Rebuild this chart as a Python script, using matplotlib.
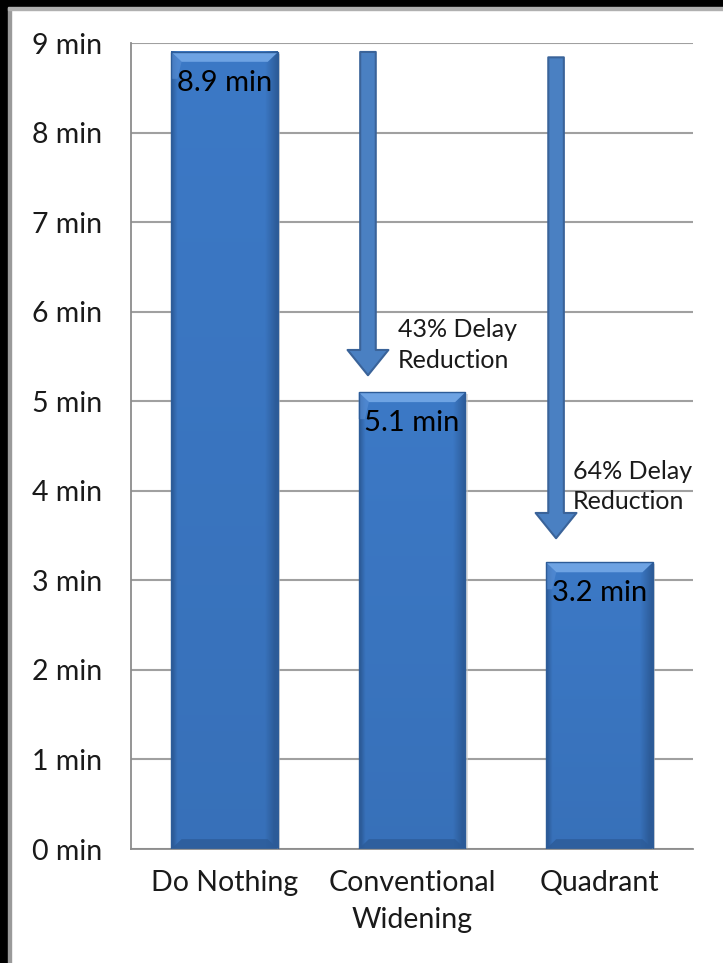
import numpy as np
import matplotlib
matplotlib.use('Agg')
import matplotlib.pyplot as plt
from matplotlib.patches import Polygon, Rectangle
from matplotlib.colors import to_rgb

plt.rcParams['font.family'] = ['Lato', 'DejaVu Sans']

categories = ['Do Nothing', 'Conventional\nWidening', 'Quadrant']
delay = [8.9, 5.1, 3.2]
bar_labels = ['8.9 min', '5.1 min', '3.2 min']
yticks = [0, 1, 2, 3, 4, 5, 6, 7, 8, 9]
ytick_labels = [str(t) + ' min' for t in yticks]

# reduction arrows: x position, start value, end value, text position
arrow_x = [0.765, 1.769]
arrow_from = [8.9, 8.84]
arrow_to = [5.29, 3.47]
reduction_text = ['43% Delay\nReduction', '64% Delay\nReduction']
text_x = [0.925, 1.86]
text_y = [5.63, 4.05]

fig = plt.figure(figsize=(7.23, 9.63), dpi=100)
ax = fig.add_axes([131/723, 1-849/963, (693-131)/723, (849-43)/963])

# dark frame on the top and left edges
fig.patches.append(Rectangle((0, 0), 8/723, 1, transform=fig.transFigure, color='black', zorder=0))
fig.patches.append(Rectangle((8/723, 0), 3/723, 1, transform=fig.transFigure, color='#9a9a9a', zorder=0))
fig.patches.append(Rectangle((0, 1-7/963), 1, 7/963, transform=fig.transFigure, color='black', zorder=0))
fig.patches.append(Rectangle((8/723, 1-10/963), 1, 3/963, transform=fig.transFigure, color='#b0b0b0', zorder=0))

x = np.arange(len(categories))
width = 0.57

base = np.array(to_rgb('#3c79c6'))
dark = np.array(to_rgb('#2c5b98'))
light = np.array(to_rgb('#6ea3e3'))

for i, v in enumerate(delay):
    x0, x1 = x[i] - width/2, x[i] + width/2
    # soft shadow
    ax.add_patch(Rectangle((x0 + 0.012, 0), width, v - 0.02, color='#c8c8c8', alpha=0.6, zorder=1, lw=0))
    # shading across the bar, darker towards the sides and the base
    tx = np.linspace(0, 1, 200)
    ty = np.linspace(0, 1, 200)
    kx = np.clip(np.maximum(1 - tx/0.06, (tx - 0.88)/0.12), 0, 1)
    ky = np.clip(0.35 * (1 - ty), 0, 1)
    k = np.clip(kx[None, :] + ky[::-1, None] * 0.8, 0, 1)
    rgb = base[None, None, :] * (1 - k[:, :, None]) + dark[None, None, :] * k[:, :, None]
    ax.imshow(rgb, extent=[x0, x1, 0, v], aspect='auto', zorder=2, interpolation='bilinear')
    # bevel on top and bottom
    bx = 0.055
    by = 0.11
    ax.add_patch(Polygon([[x0, v], [x1, v], [x1 - bx, v - by], [x0 + bx, v - by]],
                         closed=True, color=light, lw=0, zorder=3))
    ax.add_patch(Polygon([[x0, v], [x0 + bx, v - by], [x0 + bx*0.6, v - 0.3], [x0, v - 0.3]],
                         closed=True, color='#5a90d6', lw=0, zorder=3, alpha=0.6))
    ax.add_patch(Polygon([[x0, 0], [x1, 0], [x1 - bx, by], [x0 + bx, by]],
                         closed=True, color=dark, lw=0, zorder=3, alpha=0.8))
    ax.add_patch(Rectangle((x0, 0), width, v, fill=False, ec='#2d5c98', lw=1.0, zorder=4))
    ax.annotate(bar_labels[i], (x[i], v), xytext=(0, -13), textcoords='offset points',
                ha='center', va='top', fontsize=21, color='black', zorder=5)

for xa, y0, y1 in zip(arrow_x, arrow_from, arrow_to):
    ax.annotate('', xy=(xa, y1), xytext=(xa, y0),
                arrowprops=dict(arrowstyle='simple,head_length=1.3,head_width=2.1,tail_width=0.8',
                                mutation_scale=14, fc='#4a80c2', ec='#3a6399', lw=1.5,
                                shrinkA=0, shrinkB=0), zorder=3)

for s, tx, ty in zip(reduction_text, text_x, text_y):
    ax.text(tx, ty, s, ha='left', va='center', fontsize=18, linespacing=1.4, color='#1a1a1a')

ax.set_xlim(-0.5, 2.5)
ax.set_ylim(0, 9)
ax.set_yticks(yticks)
ax.set_yticklabels(ytick_labels)
ax.set_xticks(x)
ax.set_xticklabels(categories, linespacing=1.55)
ax.tick_params(axis='y', length=0, pad=21, labelsize=20.5, labelcolor='#1a1a1a')
ax.tick_params(axis='x', length=0, pad=15, labelsize=20.5, labelcolor='#1a1a1a')
ax.yaxis.grid(True, color='#a0a0a0', lw=1.5)
ax.set_axisbelow(True)
for side in ['top', 'right']:
    ax.spines[side].set_visible(False)
for side in ['left', 'bottom']:
    ax.spines[side].set_color('#8c8c8c')
    ax.spines[side].set_linewidth(1.3)

plt.savefig('out.png', dpi=100)
